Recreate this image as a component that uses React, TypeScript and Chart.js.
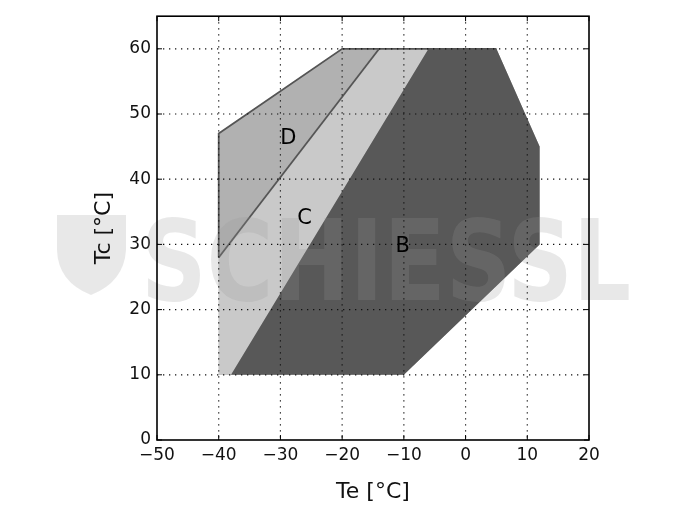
import React, { useEffect, useRef } from "react";
import { Chart, registerables } from "chart.js";

Chart.register(...registerables);

// Envelope polygons (Te, Tc)
const outerTe = [-40, -40, -20, 5, 12, 12, -10, -40];
const outerTc = [10, 47, 60, 60, 45, 30, 10, 10];
const outlineTe = [-40, -40, -20, 5];
const outlineTc = [28, 47, 60, 60];
const regionCTe = [-40, -40, -14, -6, -38, -40];
const regionCTc = [10, 28, 60, 60, 10, 10];
const regionBTe = [-38, -6, 5, 12, 12, -10, -38];
const regionBTc = [10, 60, 60, 45, 30, 10, 10];
const dividerTe = [-40, -14];
const dividerTc = [28, 60];

const regionLabels = ["D", "C", "B"];
const labelTe = [-28.7, -26.1, -10.2];
const labelTc = [46.3, 34.0, 29.6];

const xTicks = [-50, -40, -30, -20, -10, 0, 10, 20];
const yTicks = [0, 10, 20, 30, 40, 50, 60];
const xTitle = "Te [°C]";
const yTitle = "Tc [°C]";
const watermark = "SCHIESSL";

const pts = (xs: number[], ys: number[]) => xs.map((x, i) => ({ x, y: ys[i] }));

const FONT = "'DejaVu Sans', sans-serif";

const overlay = {
  id: "overlay",
  afterDatasetsDraw(chart: any) {
    const { ctx, chartArea: a, scales } = chart;
    const xs = scales.x;
    const ys = scales.y;
    ctx.save();
    // watermark logo
    ctx.fillStyle = "rgba(150,150,150,0.22)";
    ctx.beginPath();
    ctx.moveTo(57, 215);
    ctx.lineTo(126, 215);
    ctx.lineTo(126, 250);
    ctx.quadraticCurveTo(124, 282, 91, 295);
    ctx.quadraticCurveTo(58, 282, 57, 250);
    ctx.closePath();
    ctx.fill();
    // watermark text
    ctx.font = `bold 112px ${FONT}`;
    ctx.textAlign = "left";
    ctx.textBaseline = "alphabetic";
    ctx.fillText(watermark, 141, 300, 490);
    // grid
    ctx.strokeStyle = "#111";
    ctx.lineWidth = 1.2;
    ctx.setLineDash([1.3, 4.7]);
    xTicks.forEach((t) => {
      const px = xs.getPixelForValue(t);
      if (px <= a.left + 1 || px >= a.right - 1) return;
      ctx.beginPath();
      ctx.moveTo(px, a.top);
      ctx.lineTo(px, a.bottom);
      ctx.stroke();
    });
    yTicks.forEach((t) => {
      const py = ys.getPixelForValue(t);
      if (py <= a.top + 1 || py >= a.bottom - 1) return;
      ctx.beginPath();
      ctx.moveTo(a.left, py);
      ctx.lineTo(a.right, py);
      ctx.stroke();
    });
    ctx.setLineDash([]);
    // inward ticks
    ctx.strokeStyle = "#000";
    ctx.lineWidth = 1;
    const tl = 5;
    xTicks.forEach((t) => {
      const px = xs.getPixelForValue(t);
      ctx.beginPath();
      ctx.moveTo(px, a.bottom);
      ctx.lineTo(px, a.bottom - tl);
      ctx.moveTo(px, a.top);
      ctx.lineTo(px, a.top + tl);
      ctx.stroke();
    });
    yTicks.forEach((t) => {
      const py = ys.getPixelForValue(t);
      ctx.beginPath();
      ctx.moveTo(a.left, py);
      ctx.lineTo(a.left + tl, py);
      ctx.moveTo(a.right, py);
      ctx.lineTo(a.right - tl, py);
      ctx.stroke();
    });
    // frame
    ctx.lineWidth = 1.6;
    ctx.strokeRect(a.left, a.top, a.right - a.left, a.bottom - a.top);
    // region labels
    ctx.fillStyle = "#000";
    ctx.font = `21px ${FONT}`;
    ctx.textAlign = "center";
    ctx.textBaseline = "middle";
    regionLabels.forEach((l, i) => {
      ctx.fillText(l, xs.getPixelForValue(labelTe[i]), ys.getPixelForValue(labelTc[i]));
    });
    // axis titles
    ctx.fillStyle = "#111";
    ctx.font = `22px ${FONT}`;
    ctx.fillText(xTitle, (a.left + a.right) / 2, 492);
    ctx.translate(104, (a.top + a.bottom) / 2);
    ctx.rotate(-Math.PI / 2);
    ctx.fillText(yTitle, 0, 0);
    ctx.restore();
  },
};

export default function App() {
  const ref = useRef<HTMLCanvasElement | null>(null);
  useEffect(() => {
    if (!ref.current) return;
    // Chart.js draws dataset 0 on top, so list topmost first
    const chart = new Chart(ref.current, {
      type: "scatter",
      data: {
        datasets: [
          {
            data: pts(outlineTe, outlineTc),
            showLine: true,
            fill: false,
            borderColor: "#555",
            borderWidth: 1.8,
            pointRadius: 0,
          },
          {
            data: pts(dividerTe, dividerTc),
            showLine: true,
            fill: false,
            borderColor: "#555",
            borderWidth: 1.8,
            pointRadius: 0,
          },
          {
            data: pts(regionBTe, regionBTc),
            showLine: true,
            fill: "shape",
            backgroundColor: "#585858",
            borderColor: "rgba(0,0,0,0)",
            borderWidth: 0,
            pointRadius: 0,
          },
          {
            data: pts(regionCTe, regionCTc),
            showLine: true,
            fill: "shape",
            backgroundColor: "#c9c9c9",
            borderColor: "rgba(0,0,0,0)",
            borderWidth: 0,
            pointRadius: 0,
          },
          {
            data: pts(outerTe, outerTc),
            showLine: true,
            fill: "shape",
            backgroundColor: "#b1b1b1",
            borderColor: "rgba(0,0,0,0)",
            borderWidth: 0,
            pointRadius: 0,
          },
        ],
      } as any,
      options: {
        animation: false,
        responsive: true,
        maintainAspectRatio: false,
        layout: { padding: { top: 10, right: 96, left: 0, bottom: 0 } },
        plugins: { legend: { display: false }, tooltip: { enabled: false } },
        scales: {
          x: {
            type: "linear",
            min: -50,
            max: 20,
            grid: { display: false, drawTicks: false },
            border: { display: false },
            afterBuildTicks: (s: any) => {
              s.ticks = xTicks.map((v) => ({ value: v }));
            },
            afterFit: (s: any) => {
              s.height = 74;
            },
            ticks: {
              padding: 5,
              color: "#111",
              font: { family: FONT, size: 17 },
              callback: (v: any) => String(v).replace("-", "\u2212"),
            },
          },
          y: {
            type: "linear",
            min: 0,
            max: 65,
            grid: { display: false, drawTicks: false },
            border: { display: false },
            afterBuildTicks: (s: any) => {
              s.ticks = yTicks.map((v) => ({ value: v }));
            },
            afterFit: (s: any) => {
              s.width = 157;
            },
            ticks: {
              padding: 6,
              color: "#111",
              font: { family: FONT, size: 17 },
            },
          },
        },
      },
      plugins: [overlay],
    });
    return () => chart.destroy();
  }, []);
  return (
    <div style={{ position: "absolute", left: 0, top: 0, width: 685, height: 514, background: "#fff" }}>
      <canvas ref={ref} />
    </div>
  );
}
